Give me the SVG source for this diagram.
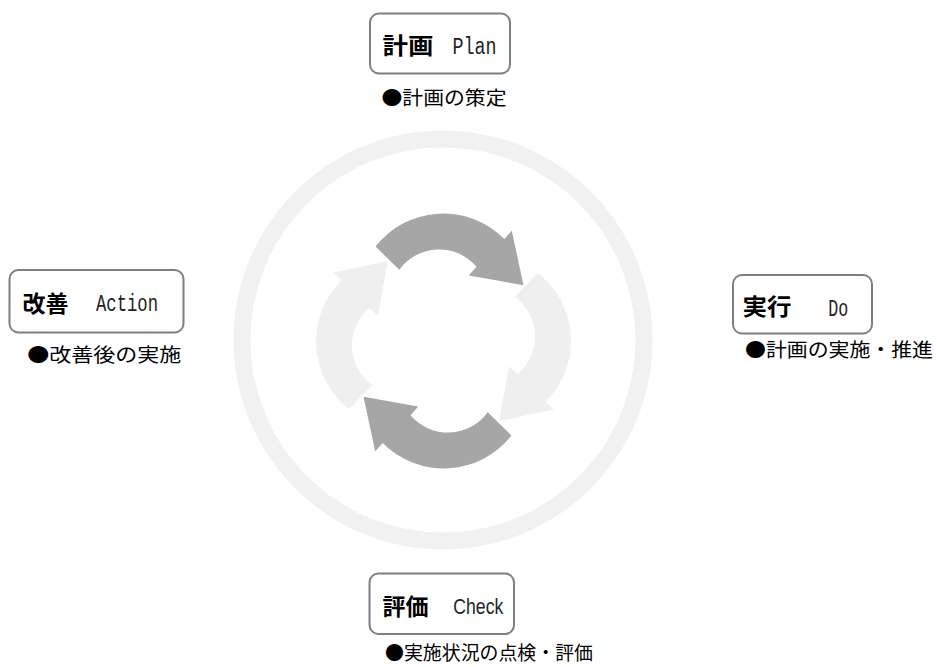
<svg xmlns="http://www.w3.org/2000/svg" width="937" height="667" viewBox="0 0 937 667">
<style>
  .box { fill: #ffffff; stroke: #7f7f7f; stroke-width: 2; }
  .ttl { font-family: "Noto Sans CJK JP", "Noto Sans CJK SC", sans-serif; font-weight: bold; font-size: 23px; fill: #000; }
  .mono { font-family: "Liberation Mono", "DejaVu Sans Mono", monospace; font-size: 23px; fill: #222; }
  .sans { font-family: "Liberation Sans", Arial, sans-serif; font-size: 22px; fill: #222; }
  .cap { font-family: "Noto Sans CJK JP", "Noto Sans CJK SC", sans-serif; font-size: 19px; fill: #000; }
  .light { fill: #efefef; }
  .dark { fill: #a6a6a6; }
</style>
<defs>
  <path id="arr" d="M -68,-94.5 A 86 86 0 0 1 60.8,-102 L 68.3,-110.3 L 80,-55.8 L 25.3,-65.5 L 33,-74.2 A 49 49 0 0 0 -44.2,-71.2 Z"/>
</defs>
<rect width="937" height="667" fill="#ffffff"/>
<g id="cycle">
  <circle cx="443" cy="340" r="201" fill="none" stroke="#f1f1f1" stroke-width="17"/>
  <use href="#arr" class="light" transform="translate(443.5,341) rotate(90)"/>
  <use href="#arr" class="light" transform="translate(443.5,341) rotate(-90)"/>
  <use href="#arr" class="dark" transform="translate(443.5,341)"/>
  <use href="#arr" class="dark" transform="translate(443.5,341) rotate(180)"/>
</g>
<g id="connectors"></g>
<g id="plan">
  <rect class="box" x="370" y="13.5" width="140" height="60" rx="9"/>
  <text class="ttl" x="382.5" y="54" textLength="51" lengthAdjust="spacingAndGlyphs">計画</text>
  <text class="mono" x="452.5" y="54.3" textLength="44" lengthAdjust="spacingAndGlyphs">Plan</text>
  <text class="cap" x="381.5" y="104.5" textLength="125" lengthAdjust="spacingAndGlyphs">●計画の策定</text>
</g>
<g id="do">
  <rect class="box" x="733" y="275" width="139" height="58.5" rx="9"/>
  <text class="ttl" x="742.5" y="315" textLength="49" lengthAdjust="spacingAndGlyphs">実行</text>
  <text class="mono" x="828.3" y="315.5" textLength="20" lengthAdjust="spacingAndGlyphs">Do</text>
  <text class="cap" x="745" y="356.5" textLength="188" lengthAdjust="spacingAndGlyphs">●計画の実施・推進</text>
</g>
<g id="check">
  <rect class="box" x="369.5" y="573.5" width="144.5" height="60.5" rx="9"/>
  <text class="ttl" x="382.5" y="615" textLength="46" lengthAdjust="spacingAndGlyphs">評価</text>
  <text class="sans" x="453.3" y="614.3" textLength="50" lengthAdjust="spacingAndGlyphs">Check</text>
  <text class="cap" x="385" y="660" textLength="208" lengthAdjust="spacingAndGlyphs">●実施状況の点検・評価</text>
</g>
<g id="action">
  <rect class="box" x="9.5" y="270" width="174" height="62.5" rx="9"/>
  <text class="ttl" x="22.5" y="311.5" textLength="46" lengthAdjust="spacingAndGlyphs">改善</text>
  <text class="mono" x="96" y="311" textLength="62" lengthAdjust="spacingAndGlyphs">Action</text>
  <text class="cap" x="27.3" y="362" textLength="154" lengthAdjust="spacingAndGlyphs">●改善後の実施</text>
</g>
</svg>
